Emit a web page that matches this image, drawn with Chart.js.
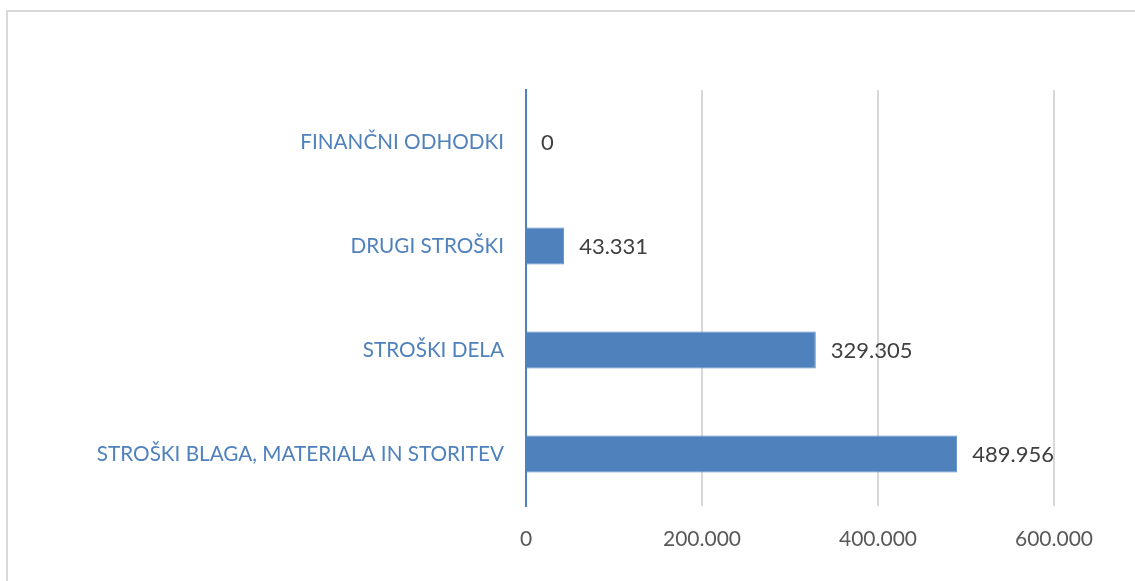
<!DOCTYPE html>
<html>
<head>
<meta charset="utf-8">
<script src="https://cdn.jsdelivr.net/npm/chart.js@4"></script>
<style>
  html, body { margin: 0; padding: 0; background: #fff; overflow: hidden; }
  #wrap { position: relative; width: 1135px; height: 581px; }
  #frame { position: absolute; left: 6px; top: 10px; width: 1200px; height: 700px;
           border-left: 2px solid #d9d9d9; border-top: 2px solid #d9d9d9; box-sizing: border-box; }
  canvas { position: absolute; left: 0; top: 0; }
</style>
</head>
<body>
<div id="wrap">
  <div id="frame"></div>
  <canvas id="c" width="1135" height="581"></canvas>
</div>
<script>
const categories = [
  "FINANČNI ODHODKI",
  "DRUGI STROŠKI",
  "STROŠKI DELA",
  "STROŠKI BLAGA, MATERIALA IN STORITEV"
];
const values = [0, 43331, 329305, 489956];
const tickValues = [0, 200000, 400000, 600000];

const FONT = "Lato";
const fmt = v => Math.round(v).toString().replace(/\B(?=(\d{3})+(?!\d))/g, ".");

const dataLabels = {
  id: "dataLabels",
  afterDatasetsDraw(chart) {
    const ctx = chart.ctx;
    const meta = chart.getDatasetMeta(0);
    ctx.save();
    ctx.font = "22px " + FONT;
    ctx.fillStyle = "#404040";
    ctx.textAlign = "left";
    ctx.textBaseline = "middle";
    meta.data.forEach((bar, i) => {
      ctx.fillText(fmt(values[i]), bar.x + 15, bar.y + 1);
    });
    ctx.restore();
  }
};

new Chart(document.getElementById("c"), {
  type: "bar",
  data: {
    labels: categories,
    datasets: [{
      data: values,
      backgroundColor: "#4F81BD",
      borderColor: "#5b8cc6",
      borderWidth: 1,
      categoryPercentage: 1,
      barPercentage: 0.355
    }]
  },
  options: {
    indexAxis: "y",
    responsive: false,
    animation: false,
    devicePixelRatio: 1,
    layout: { padding: { left: 0, top: 90, right: 81, bottom: 0 } },
    plugins: { legend: { display: false }, tooltip: { enabled: false } },
    scales: {
      x: {
        type: "linear",
        min: 0,
        max: 600000,
        afterBuildTicks(scale) { scale.ticks = tickValues.map(v => ({ value: v })); },
        afterFit(scale) { scale.height = 75; },
        grid: { color: "#d9d9d9", lineWidth: 2, drawTicks: false },
        border: { display: false },
        ticks: {
          padding: 21,
          color: "#595959",
          font: { family: FONT, size: 21 },
          maxRotation: 0,
          callback: v => fmt(v)
        }
      },
      y: {
        afterFit(scale) { scale.width = 526; },
        grid: { display: false, drawTicks: false },
        border: { display: true, color: "#4F81BD", width: 2 },
        ticks: {
          padding: 22,
          color: "#4F81BD",
          font: { family: FONT, size: 20.7 }
        }
      }
    }
  },
  plugins: [dataLabels]
});
</script>
</body>
</html>
